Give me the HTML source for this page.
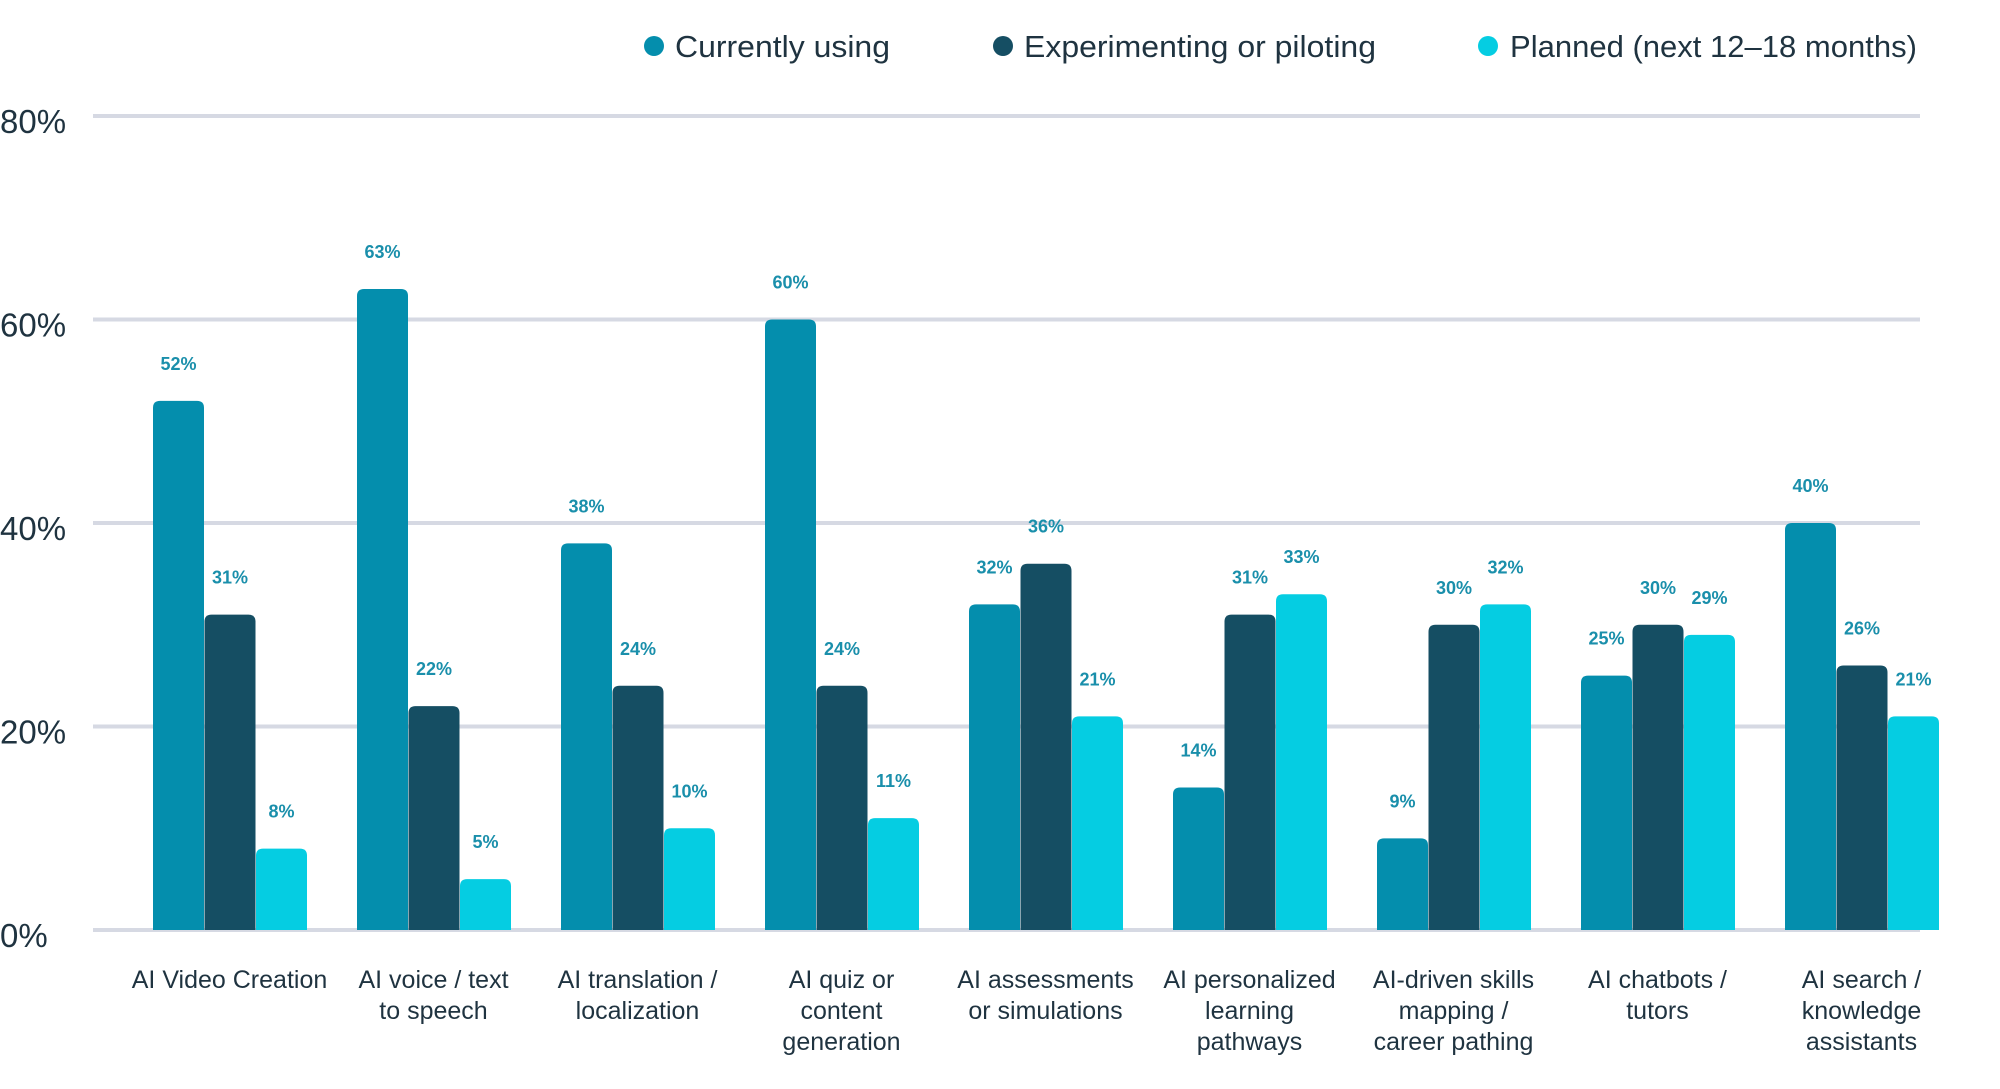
<!DOCTYPE html>
<html><head><meta charset="utf-8"><style>
body{margin:0;background:#fff;}
svg{display:block;font-family:"Liberation Sans",sans-serif;}
</style></head><body>
<svg id="chart" width="2000" height="1089" viewBox="0 0 2000 1089" xmlns="http://www.w3.org/2000/svg">
<g id="legend">
 <g><circle cx="654" cy="46" r="10" fill="#048ead"/><text x="675" y="57" font-size="31" fill="#1f3340" textLength="215" lengthAdjust="spacingAndGlyphs">Currently using</text></g>
 <g><circle cx="1003" cy="46" r="10" fill="#154e63"/><text x="1024" y="57" font-size="31" fill="#1f3340" textLength="352" lengthAdjust="spacingAndGlyphs">Experimenting or piloting</text></g>
 <g><circle cx="1488" cy="46" r="10" fill="#05cde2"/><text x="1510" y="57" font-size="31" fill="#1f3340" textLength="407" lengthAdjust="spacingAndGlyphs">Planned (next 12–18 months)</text></g>
</g>
<g id="grid"></g>
<g id="bars"></g>
<g id="xlabels"></g>
</svg>
<script>
const categories = [["AI Video Creation"],["AI voice / text","to speech"],["AI translation /","localization"],["AI quiz or","content","generation"],["AI assessments","or simulations"],["AI personalized","learning","pathways"],["AI-driven skills","mapping /","career pathing"],["AI chatbots /","tutors"],["AI search /","knowledge","assistants"]];
const currentlyUsing = [52,63,38,60,32,14,9,25,40];
const experimenting = [31,22,24,24,36,31,30,30,26];
const planned = [8,5,10,11,21,33,32,29,21];
const yTicks = [0,20,40,60,80];
const yTickLabels = ["0%","20%","40%","60%","80%"];

const NS="http://www.w3.org/2000/svg";
const y0=930, pxPer=203.5/20;
const yScale=v=>y0-v*pxPer;
const groupX=i=>153+i*204;
const barW=51;
function mk(tag,attrs,parent){const e=document.createElementNS(NS,tag);for(const k in attrs)e.setAttribute(k,attrs[k]);parent.appendChild(e);return e;}
const grid=document.getElementById('grid');
yTicks.forEach((t,i)=>{
 const l=mk('line',{x1:93,x2:1920,y1:yScale(t),y2:yScale(t),stroke:'#d6d9e3','stroke-width':4},grid);
 
 
 const tx=mk('text',{x:0,y:yScale(t)+17,'font-size':33,fill:'#1f3340'},grid);
 tx.textContent=yTickLabels[i];
 
 
});
const bars=document.getElementById('bars');
const series=[[currentlyUsing,'#048ead','current'],[experimenting,'#154e63','experimenting'],[planned,'#05cde2','planned']];
categories.forEach((c,i)=>{
 series.forEach((s,j)=>{
  const v=s[0][i];const x=groupX(i)+j*barW+j*0.5;const top=yScale(v);const r=7;
  const p=mk('path',{d:`M${x},${y0} V${top+r} Q${x},${top} ${x+r},${top} H${x+barW-r} Q${x+barW},${top} ${x+barW},${top+r} V${y0} Z`,fill:s[1]},bars);
  
  
  const t=mk('text',{x:x+barW/2,y:top-31,'text-anchor':'middle','font-size':18,'font-weight':'bold',fill:'#1a8fab'},bars);
  t.textContent=v+'%';
  
  
 });
 const cx=groupX(i)+1.5*barW;
 const xl=document.getElementById('xlabels');
 const t=mk('text',{x:cx,y:988,'text-anchor':'middle','font-size':25,fill:'#1f3340'},xl);
 
 
 c.forEach((line,k)=>{const ts=mk('tspan',{x:cx,dy:k?31:0},t);ts.textContent=line;});
});
</script>
</body></html>
